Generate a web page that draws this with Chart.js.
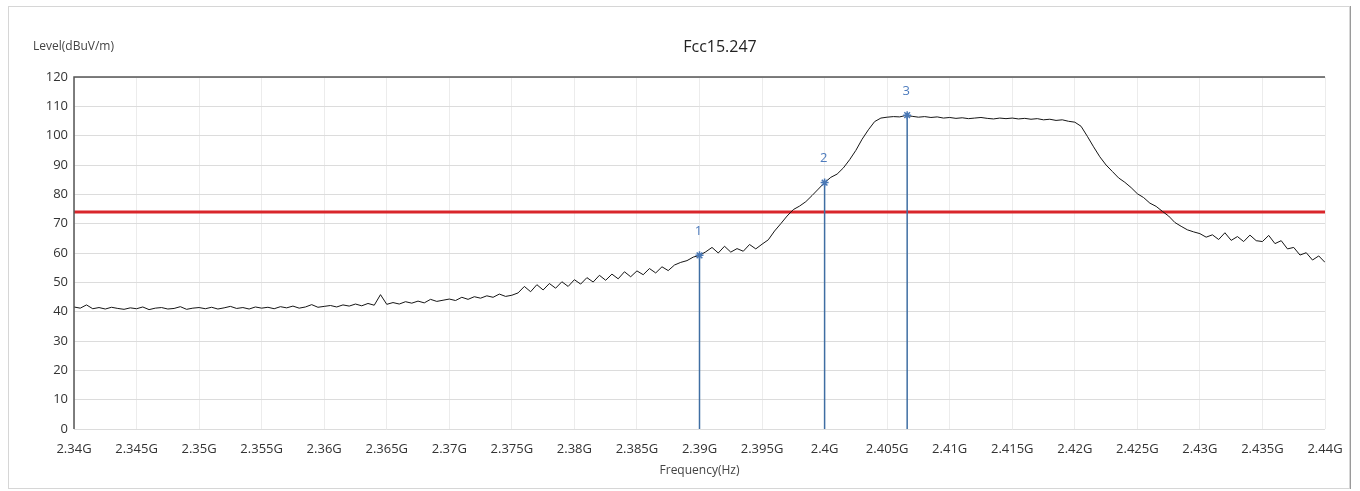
<!DOCTYPE html>
<html>
<head>
<meta charset="utf-8">
<script src="https://cdn.jsdelivr.net/npm/chart.js@4.4.1/dist/chart.umd.min.js"></script>
<style>
  html, body { margin: 0; padding: 0; background: #fff; }
  #wrap { position: relative; width: 1360px; height: 491px; }
</style>
</head>
<body>
<div id="wrap"><canvas id="emiChart" width="1360" height="491"></canvas></div>
<script>
// sweep settings (MHz)
const sweepStart = 2340;
const sweepStep = 0.5;

const levels = [
  41.6, 41.2, 42.3, 41.0, 41.4, 40.9, 41.5, 41.1, 40.8, 41.3,
  41.0, 41.6, 40.7, 41.2, 41.4, 40.9, 41.1, 41.7, 40.8, 41.2,
  41.4, 41.0, 41.5, 40.9, 41.3, 41.8, 41.1, 41.4, 40.9, 41.6,
  41.2, 41.5, 41.0, 41.7, 41.3, 41.9, 41.2, 41.6, 42.4, 41.5,
  41.8, 42.1, 41.6, 42.3, 41.9, 42.6, 42.0, 42.8, 42.2, 45.8,
  42.5, 43.1, 42.6, 43.4, 42.9, 43.6, 43.0, 44.2, 43.5, 43.9,
  44.3, 43.8, 44.9, 44.2, 45.1, 44.6, 45.4, 44.9, 46.0, 45.2,
  45.6, 46.4, 48.6, 46.8, 49.2, 47.4, 49.6, 48.0, 50.2, 48.6,
  50.9, 49.4, 51.6, 50.1, 52.4, 50.7, 52.8, 51.2, 53.6, 51.9,
  53.9, 52.6, 54.7, 53.2, 55.3, 54.0, 55.9, 56.8, 57.4, 58.6,
  59.2, 60.4, 61.9, 60.0, 62.3, 60.3, 61.5, 60.6, 62.9, 61.4,
  63.0, 64.5, 67.5, 70.0, 72.6, 74.8, 76.0, 77.5, 79.6, 81.8,
  84.0, 85.8, 86.9, 89.0, 91.8, 95.0, 98.8, 102.0, 104.8, 106.0,
  106.3, 106.5, 106.4, 106.9, 106.6, 106.3, 106.5, 106.2, 106.4, 106.0,
  106.2, 105.9, 106.1, 105.8, 106.0, 106.2, 105.9, 105.7, 106.0, 105.8,
  106.0, 105.7, 105.9, 105.6, 105.8, 105.4, 105.6, 105.2, 105.4, 104.9,
  104.6, 103.2, 99.8, 96.2, 92.8, 90.0, 87.8, 85.6, 84.1, 82.3,
  80.2, 78.9, 77.0, 75.9, 74.2, 72.6, 70.4, 69.1, 67.9, 67.2,
  66.6, 65.4, 66.2, 64.6, 66.9, 64.3, 65.6, 63.9, 66.1, 64.2,
  63.9, 66.0, 63.2, 64.2, 61.4, 61.9, 59.3, 60.1, 57.6, 59.0,
  56.8
];

// FCC 15.247 limit line
const limitLevel = 74;

// markers
const markerFreqs = [2390, 2400, 2406.6];
const markerLevels = [59.2, 84.0, 107.0];
const markerNames = ['1', '2', '3'];

// axis ticks
const yTicks = [0, 10, 20, 30, 40, 50, 60, 70, 80, 90, 100, 110, 120];
const xMin = 2340, xMax = 2440, xStep = 5;

const FONT = '"Open Sans", "Noto Sans", sans-serif';

const trace = levels.map((v, i) => ({ x: sweepStart + i * sweepStep, y: v }));

const datasets = [{
    label: 'Level',
    data: trace,
    borderColor: '#151515',
    borderWidth: 1,
    pointRadius: 0,
    tension: 0,
    order: 1
}, {
    label: 'Limit',
    data: [{ x: xMin, y: limitLevel }, { x: xMax, y: limitLevel }],
    borderColor: '#d9262b',
    borderWidth: 3,
    pointRadius: 0,
    order: 2
}];

markerFreqs.forEach((f, i) => {
    datasets.push({
        label: 'M' + markerNames[i],
        data: [{ x: f, y: 0 }, { x: f, y: markerLevels[i] }],
        borderColor: '#3f6ea3',
        borderWidth: 1.5,
        pointRadius: [0, 4],
        pointStyle: 'star',
        pointBorderColor: '#4a78b5',
        pointBorderWidth: 1.5,
        order: 0
    });
});

// titles, marker numbers and frame
const decorations = {
    id: 'decorations',
    beforeDraw(chart) {
        const ctx = chart.ctx;
        ctx.save();
        ctx.strokeStyle = '#d6d6d6';
        ctx.lineWidth = 1;
        ctx.strokeRect(8.5, 6.5, 1341, 482);
        ctx.strokeStyle = '#9a9a9a';
        ctx.beginPath();
        ctx.moveTo(1350.5, 6);
        ctx.lineTo(1350.5, 489);
        ctx.stroke();
        ctx.restore();
    },
    afterDraw(chart) {
        const ctx = chart.ctx;
        const area = chart.chartArea;
        const xs = chart.scales.x, ys = chart.scales.y;
        ctx.save();
        // frame of the plot: dark top and left edges
        ctx.strokeStyle = '#555';
        ctx.lineWidth = 1.5;
        ctx.beginPath();
        ctx.moveTo(area.left, area.bottom);
        ctx.lineTo(area.left, area.top);
        ctx.lineTo(area.right, area.top);
        ctx.stroke();

        ctx.fillStyle = '#222';
        ctx.textBaseline = 'middle';
        ctx.font = '16px ' + FONT;
        ctx.textAlign = 'center';
        ctx.fillText('Fcc15.247', 720, 47);

        ctx.font = '12px ' + FONT;
        ctx.textAlign = 'left';
        ctx.fillStyle = '#444';
        ctx.fillText('Level(dBuV/m)', 33, 47);

        ctx.textAlign = 'center';
        ctx.fillText('Frequency(Hz)', (area.left + area.right) / 2, 471);

        ctx.font = '13px ' + FONT;
        ctx.fillStyle = '#4d7bbd';
        markerFreqs.forEach((f, i) => {
            ctx.fillText(markerNames[i], xs.getPixelForValue(f) - 1, ys.getPixelForValue(markerLevels[i]) - 24);
        });
        ctx.restore();
    }
};

new Chart(document.getElementById('emiChart'), {
    type: 'line',
    data: { datasets: datasets },
    options: {
        responsive: false,
        animation: false,
        events: [],
        layout: { padding: { top: 77, right: 35, left: 0, bottom: 0 } },
        plugins: {
            legend: { display: false },
            tooltip: { enabled: false },
            title: { display: false }
        },
        scales: {
            x: {
                type: 'linear',
                min: xMin,
                max: xMax,
                afterFit: (scale) => { scale.height = 62; },
                grid: { color: '#ececec', drawTicks: false },
                border: { display: false },
                ticks: {
                    stepSize: xStep,
                    autoSkip: false,
                    maxRotation: 0,
                    padding: 12,
                    color: '#333',
                    font: { family: FONT, size: 13 },
                    callback: (v) => (Math.round(v) / 1000) + 'G'
                }
            },
            y: {
                min: yTicks[0],
                max: yTicks[yTicks.length - 1],
                afterFit: (scale) => { scale.width = 74; },
                afterBuildTicks: (scale) => { scale.ticks = yTicks.map(v => ({ value: v })); },
                grid: { color: '#dcdcdc', drawTicks: false },
                border: { display: false },
                ticks: {
                    padding: 6,
                    color: '#333',
                    font: { family: FONT, size: 13 }
                }
            }
        }
    },
    plugins: [decorations]
});
</script>
</body>
</html>
